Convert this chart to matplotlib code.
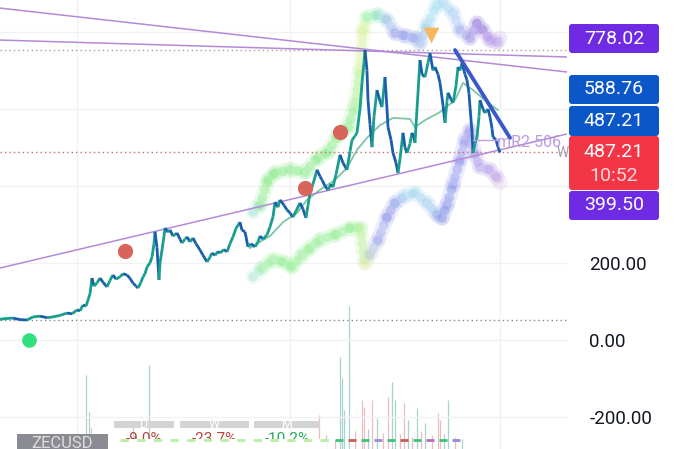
import numpy as np
import matplotlib
matplotlib.use("Agg")
import matplotlib.pyplot as plt
from matplotlib.collections import LineCollection
from matplotlib.colors import LinearSegmentedColormap
from matplotlib.patches import FancyBboxPatch, Rectangle

# ---- datos (x = barra/dia, y = precio) ----
days = [0, 7, 13, 20, 27, 33, 40, 47, 53, 60, 67, 72, 77, 80, 83, 86, 88, 90, 92, 94,
        97, 100, 103, 107, 110, 113, 116, 120, 123, 127, 130, 133, 136, 138, 141, 143,
        145, 147, 150, 152, 154, 155, 157, 159, 160, 162, 164, 165, 168, 170, 173, 177,
        180, 182, 185, 187, 190, 193, 196, 200, 203, 207, 210, 212, 215, 218, 220, 224,
        227, 230, 233, 236, 240, 242, 245, 248, 251, 255, 258, 260, 263, 267, 270, 273,
        275, 278, 280, 284, 287, 290, 293, 296, 300, 303, 306, 308, 310, 313, 317, 320,
        322, 325, 328, 331, 333, 336, 340, 343, 347, 350, 352, 355, 357, 360, 362, 364,
        365, 367, 368, 370, 372, 374, 377, 380, 382, 385, 387, 388, 391, 393, 396, 398,
        400, 403, 405, 407, 410, 412, 414, 415, 417, 420, 422, 425, 428, 430, 433, 435,
        438, 440, 443, 445, 447, 448, 451, 453, 456, 458, 460, 462, 465, 467, 469, 470,
        472, 473, 475, 477, 479, 480, 483, 485, 488, 490, 492, 493, 496, 498, 500]
close = [54, 56, 57, 53, 52, 60, 62, 58, 60, 64, 70, 68, 78, 76, 91, 88, 104, 120, 161, 140,
         148, 161, 150, 138, 155, 169, 158, 164, 172, 169, 160, 148, 140, 135, 150, 164,
         172, 190, 200, 216, 250, 281, 240, 156, 200, 234, 270, 291, 280, 286, 270, 278,
         262, 252, 262, 268, 255, 265, 250, 234, 220, 203, 215, 226, 220, 230, 226, 235,
         229, 250, 268, 290, 306, 285, 281, 242, 250, 242, 255, 270, 262, 273, 294, 320,
         358, 345, 364, 350, 338, 330, 319, 335, 356, 340, 317, 350, 382, 405, 442, 425,
         416, 400, 390, 405, 397, 430, 481, 460, 442, 490, 519, 530, 538, 600, 668, 720,
         753, 700, 623, 560, 501, 580, 649, 620, 605, 683, 600, 553, 520, 486, 460, 434,
         470, 538, 500, 486, 510, 538, 525, 512, 600, 727, 690, 683, 720, 745, 700, 709,
         690, 668, 610, 564, 620, 642, 625, 616, 660, 709, 700, 719, 690, 675, 640, 605,
         540, 486, 510, 527, 580, 623, 600, 590, 600, 579, 550, 527, 520, 501, 487]

ma_days = [250, 260, 270, 283, 297, 307, 320, 335, 347, 357, 367, 380, 393, 410, 415,
           425, 440, 455, 463, 473, 485, 498]
ma_vals = [239, 255, 270, 306, 330, 364, 390, 416, 447, 494, 525, 558, 577, 574, 553,
           571, 592, 623, 668, 649, 623, 597]

up_days = [253, 260, 268, 275, 290, 305, 318, 328, 338, 348, 355, 360, 363, 367, 378, 387,
           395, 405, 415, 420, 427, 437, 443, 453, 460, 470, 477, 483, 490, 497, 500]
up_vals = [332, 351, 416, 434, 442, 436, 473, 488, 532, 553, 610, 701, 805, 839, 844, 831,
           797, 790, 784, 771, 818, 870, 875, 849, 805, 784, 823, 805, 779, 774, 784]
lo_days = [253, 262, 273, 283, 292, 302, 310, 320, 335, 350, 360, 365, 370, 378, 387, 395,
           405, 415, 427, 437, 442, 447, 453, 460, 465, 470, 475, 480, 490, 497, 500]
lo_vals = [164, 187, 208, 203, 190, 221, 239, 260, 273, 291, 291, 200, 221, 260, 319, 356,
           374, 382, 356, 325, 317, 351, 403, 468, 519, 545, 481, 449, 442, 421, 408]

vol_days = [86, 89, 91, 133, 149, 319, 326, 335, 340, 342, 344, 349, 355, 362, 364, 368,
            372, 377, 383, 388, 392, 395, 400, 404, 408, 412, 417, 421, 425, 432, 438,
            440, 444, 448, 455, 462]
vol = [74, 37, 21, 22, 84, 34, 14, 9, 92, 71, 39, 143, 18, 49, 42, 20, 49, 31, 16, 52,
       67, 49, 15, 46, 29, 12, 41, 18, 26, 14, 36, 29, 15, 49, 12, 10]
vol_up = [1, 1, 0, 1, 1, 0, 1, 0, 1, 1, 1, 1, 0, 0, 0, 1, 0, 1, 0, 0,
          1, 1, 0, 0, 1, 0, 1, 0, 1, 0, 0, 0, 1, 1, 0, 1]

signals_sell = ([125, 305, 340], [231, 395, 540])
signal_buy = ([29], [0])
tri = ([431], [792])
last_price = 487.21
hi_line, lo_line = 753, 52
tl_top = ([0, 567], [862, 696])
tl_mid = ([0, 567], [779, 735])
tl_low = ([0, 567], [187, 535])
tl_blue = ([455, 510], [753, 525])

tags = [("778.02", "#6f2be4"), ("588.76", "#0b56c8"), ("487.21", "#0b56c8"),
        ("487.21\n10:52", "#f23645"), ("399.50", "#6f2be4")]
periods = [("D", "-9.0%", "#b8443c"), ("W", "-23.7%", "#b8443c"), ("M", "-10.2%", "#22a95a")]

plt.rcParams["font.family"] = ["Roboto", "DejaVu Sans"]
fig = plt.figure(figsize=(6.8, 4.49), dpi=100)
rect = [0, 0, 567 / 680, 1]

# volumen (eje propio, detras)
axv = fig.add_axes(rect)
axv.set_xlim(0, 567); axv.set_ylim(0, 449); axv.axis("off")
axv.vlines(vol_days, 0, vol, colors=["#a8d4cf" if u else "#ebbcc0" for u in vol_up], lw=0.9)

ax = fig.add_axes(rect)
ax.patch.set_alpha(0)
ax.set_xlim(0, 567); ax.set_ylim(-283, 883)
for s in ax.spines.values():
    s.set_visible(False)
ax.set_xticks([])
ax.yaxis.tick_right()
ax.set_yticks([200, 0, -200])
ax.set_yticklabels([f"{v:.2f}" for v in (200, 0, -200)])
ax.tick_params(axis="y", length=0, pad=16, labelsize=13.5, labelcolor="#131722")
for v in (800, 600, 400, 200, 0, -200):
    ax.axhline(v, color="#f2f2f2", lw=1, zorder=0)
for d in (77, 290, 500):
    ax.axvline(d, color="#f2f2f2", lw=1, zorder=0)

# bandas difusas
def band(xs, ys, anchors):
    x0, x1 = xs[0], xs[-1]
    cm = LinearSegmentedColormap.from_list(
        "b", [((a - x0) / (x1 - x0), c) for a, c in anchors])
    pts = np.column_stack([xs, ys])
    seg = np.stack([pts[:-1], pts[1:]], 1)
    mid = (np.array(xs[:-1]) + np.array(xs[1:])) / 2
    cols = cm((mid - x0) / (x1 - x0))
    ax.add_collection(LineCollection(seg, colors=cols, lw=11, alpha=.18,
                                     capstyle="round", zorder=1))
    ax.add_collection(LineCollection(seg, colors=cols, lw=7, alpha=.45,
                                     linestyles=[(0, (0.01, 0.8))], capstyle="round", zorder=1))

band(up_days, up_vals, [(253, "#a8d8f0"), (262, "#8cec8c"), (355, "#8cec8c"), (363, "#eef5a0"),
                        (372, "#8cf0b0"), (390, "#a8c8f0"), (402, "#9090e8"), (420, "#a0b8f0"),
                        (437, "#a0e8f0"), (455, "#b0d0f8"), (475, "#a088e0"), (500, "#b898e8")])
band(lo_days, lo_vals, [(253, "#b0e0f0"), (265, "#98f098"), (360, "#98f098"), (366, "#f0f0a0"),
                        (375, "#a8b8f0"), (395, "#9090e8"), (405, "#a8e0f0"), (430, "#a8d0f0"),
                        (445, "#8090e8"), (470, "#a8a0f0"), (500, "#c8a8e8")])

ax.plot(ma_days, ma_vals, color="#7cc6a4", lw=1.3, zorder=2)

# lineas horizontales punteadas
ax.hlines(hi_line, 0, 567, colors="#b09a9a", linestyles=(0, (1, 2.2)), lw=1, zorder=2)
ax.hlines(last_price, 0, 567, colors="#d06a6a", linestyles=(0, (1, 2.2)), lw=1, zorder=2)
ax.hlines(lo_line, 0, 567, colors="#8a8a8a", linestyles=(0, (1, 2.2)), lw=1, zorder=2)

# precio coloreado por direccion
pts = np.column_stack([days, close])
seg = np.stack([pts[:-1], pts[1:]], 1)
cols = ["#179e8c" if b >= a else "#1b5dab" for a, b in zip(close[:-1], close[1:])]
ax.add_collection(LineCollection(seg, colors=cols, lw=2.0, zorder=3))

# lineas de tendencia
for xs, ys in (tl_top, tl_mid, tl_low):
    ax.plot(xs, ys, color="#b48ad8", lw=1.1, zorder=2)
ax.plot(*tl_blue, color="#3a58cc", lw=2.8, zorder=4, solid_capstyle="round")

ax.scatter(*signals_sell, s=120, color="#d8645c", zorder=5, lw=0)
ax.scatter(*signal_buy, s=110, color="#2fe07d", zorder=5, lw=0)
ax.scatter(*tri, s=130, marker="v", color="#f7b75e", zorder=5, lw=0)

ax.plot([473, 497], [519, 519], color="#c0a0e0", lw=1, zorder=4)
ax.text(497, 514, "mR2 506", color="#b890e0", fontsize=11.5, va="center", alpha=.9, zorder=4)
ax.text(557, 486, "W", color="#a0a0b4", fontsize=10, va="center", zorder=4)

# panel derecho con etiquetas
axr = fig.add_axes([567 / 680, 0, 113 / 680, 1])
axr.set_xlim(567, 680); axr.set_ylim(449, 0); axr.axis("off")
boxes = [(24, 29), (75, 29), (106, 30), (136, 54), (191, 29)]
for (txt, c), (y0, h) in zip(tags, boxes):
    axr.add_patch(FancyBboxPatch((569, y0), 90, h, boxstyle="round,pad=0,rounding_size=3",
                                 fc=c, ec="none"))
    if "\n" in txt:
        a, b = txt.split("\n")
        axr.text(614, y0 + 16, a, color="white", fontsize=14, ha="center", va="center")
        axr.text(614, y0 + 40, b, color="#ffd6da", fontsize=14, ha="center", va="center")
    else:
        axr.text(614, y0 + h / 2, txt, color="white", fontsize=14, ha="center", va="center")

# superposiciones de abajo
axo = fig.add_axes([0, 0, 1, 1])
axo.set_xlim(0, 680); axo.set_ylim(449, 0); axo.axis("off")
xs0 = [114, 180, 254]; ws = [60, 69, 66]
for (p, pct, c), x0, w in zip(periods, xs0, ws):
    axo.add_patch(Rectangle((x0, 421), w, 7, fc="#d4d4d4", ec="none"))
    axo.text(x0 + w / 2, 425, p, color="white", fontsize=9, ha="center", va="center")
    axo.text(x0 + w / 2, 432, pct, color=c, fontsize=11, ha="center", va="top")
axo.add_patch(Rectangle((115, 439), 212, 10, fc="white", ec="none", zorder=5))
axo.hlines(440, 120, 330, colors="#b8f0a0", linestyles=(0, (3, 3)), lw=2, zorder=6)
dash_cols = ["#3cc47a", "#c06050", "#3cc47a", "#9a8ad8", "#3cc47a", "#c06050", "#3cc47a",
             "#b070c0", "#3cc47a", "#9a8ad8"]
for i, c in enumerate(dash_cols):
    axo.hlines(440, 335 + i * 13, 343 + i * 13, colors=c, lw=2, zorder=6)
axo.add_patch(Rectangle((17, 434), 91, 20, fc="#8b8b93", ec="none", zorder=6))
axo.text(62, 443, "ZECUSD", color="#dedede", fontsize=12, ha="center", va="center", zorder=7)

fig.savefig("out.png", dpi=100)
